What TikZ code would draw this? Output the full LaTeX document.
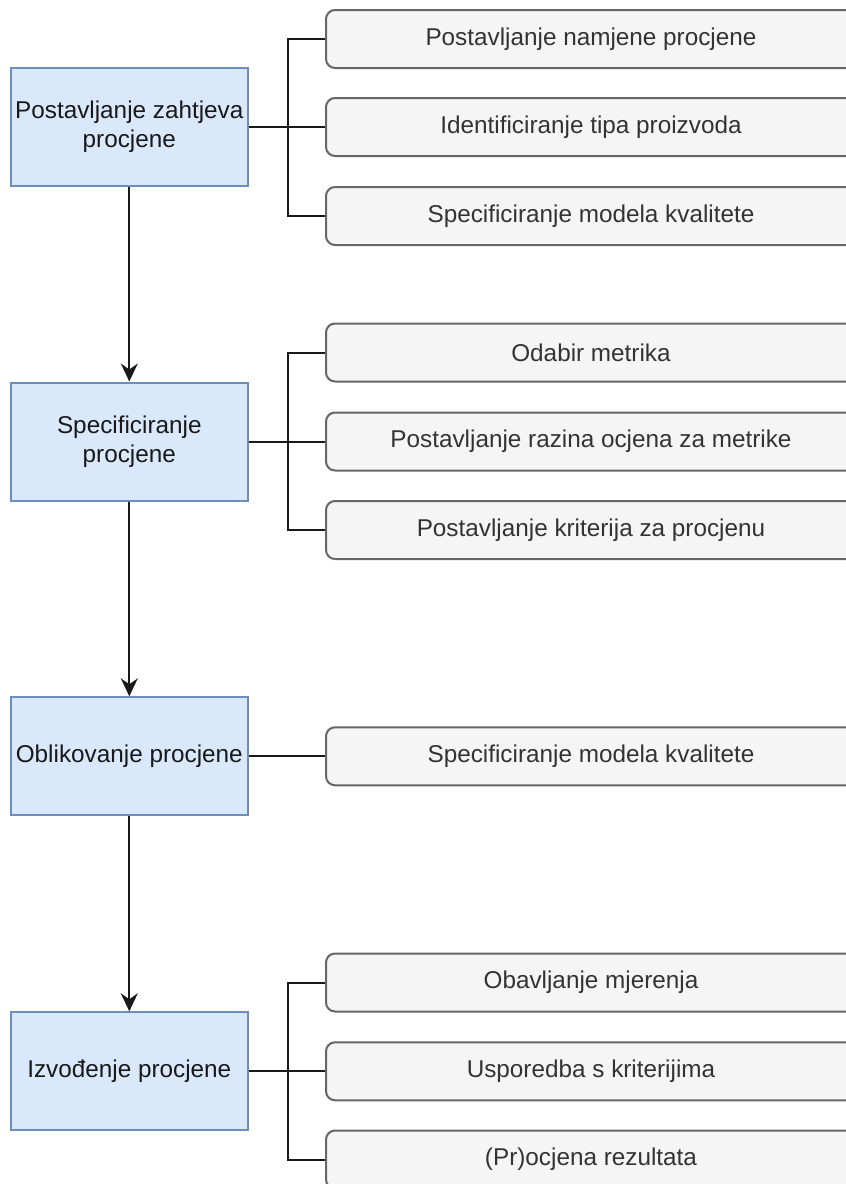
\documentclass[tikz,border=0pt]{standalone}
\usepackage{fontspec}
\setmainfont{Liberation Sans}
\usetikzlibrary{arrows.meta}
\definecolor{bluefill}{HTML}{DAE8FC}
\definecolor{bluedraw}{HTML}{6C8EBF}
\definecolor{grayfill}{HTML}{F5F5F5}
\definecolor{graydraw}{HTML}{666666}
\definecolor{graytext}{HTML}{333333}
\tikzset{
  phase/.style={draw=bluedraw, fill=bluefill, line width=2pt, minimum width=237pt, minimum height=118pt, inner sep=0pt, align=center, font=\fontsize{24.3}{29}\selectfont, text=black!90},
  task/.style={draw=graydraw, fill=grayfill, line width=2pt, rounded corners=9pt, minimum width=530pt, minimum height=58pt, inner sep=0pt, anchor=west, font=\fontsize{24.3}{29}\selectfont, text=graytext},
  link/.style={line width=2pt, draw=black!90},
  flow/.style={line width=2pt, draw=black!90, -{Stealth[length=18pt,width=17pt,inset=6pt]}}
}
\begin{document}
\begin{tikzpicture}[x=1pt,y=-1pt]
\useasboundingbox (0,0) rectangle (846,1184);
\clip (0,0) rectangle (846,1184);
% phases
\node[phase] (p1) at (129.3,127) {Postavljanje zahtjeva\\procjene};
\node[phase] (p2) at (129.3,441.5) {Specificiranje\\procjene};
\node[phase] (p3) at (129.3,756.3) {Oblikovanje procjene};
\node[phase] (p4) at (129.3,1071.3) {Izvođenje procjene};
% tasks
\node[task] (t11) at (325,39) {Postavljanje namjene procjene};
\node[task] (t12) at (325,127) {Identificiranje tipa proizvoda};
\node[task] (t13) at (325,216) {Specificiranje modela kvalitete};
\node[task] (t21) at (325,352.5) {Odabir metrika};
\node[task] (t22) at (325,441.5) {Postavljanje razina ocjena za metrike};
\node[task] (t23) at (325,530) {Postavljanje kriterija za procjenu};
\node[task] (t31) at (325,756.3) {Specificiranje modela kvalitete};
\node[task] (t41) at (325,982.5) {Obavljanje mjerenja};
\node[task] (t42) at (325,1071.3) {Usporedba s kriterijima};
\node[task] (t43) at (325,1159.5) {(Pr)ocjena rezultata};
% flow arrows
\draw[flow] (p1.south) -- (p2.north);
\draw[flow] (p2.south) -- (p3.north);
\draw[flow] (p3.south) -- (p4.north);
% brackets
\foreach \p/\t in {p1/t11,p1/t12,p1/t13,p2/t21,p2/t22,p2/t23,p4/t41,p4/t42,p4/t43}{
  \draw[link] (\p.east) -- ++(39,0) |- (\t.west);
}
\draw[link] (p3.east) -- (t31.west);
\end{tikzpicture}
\end{document}
